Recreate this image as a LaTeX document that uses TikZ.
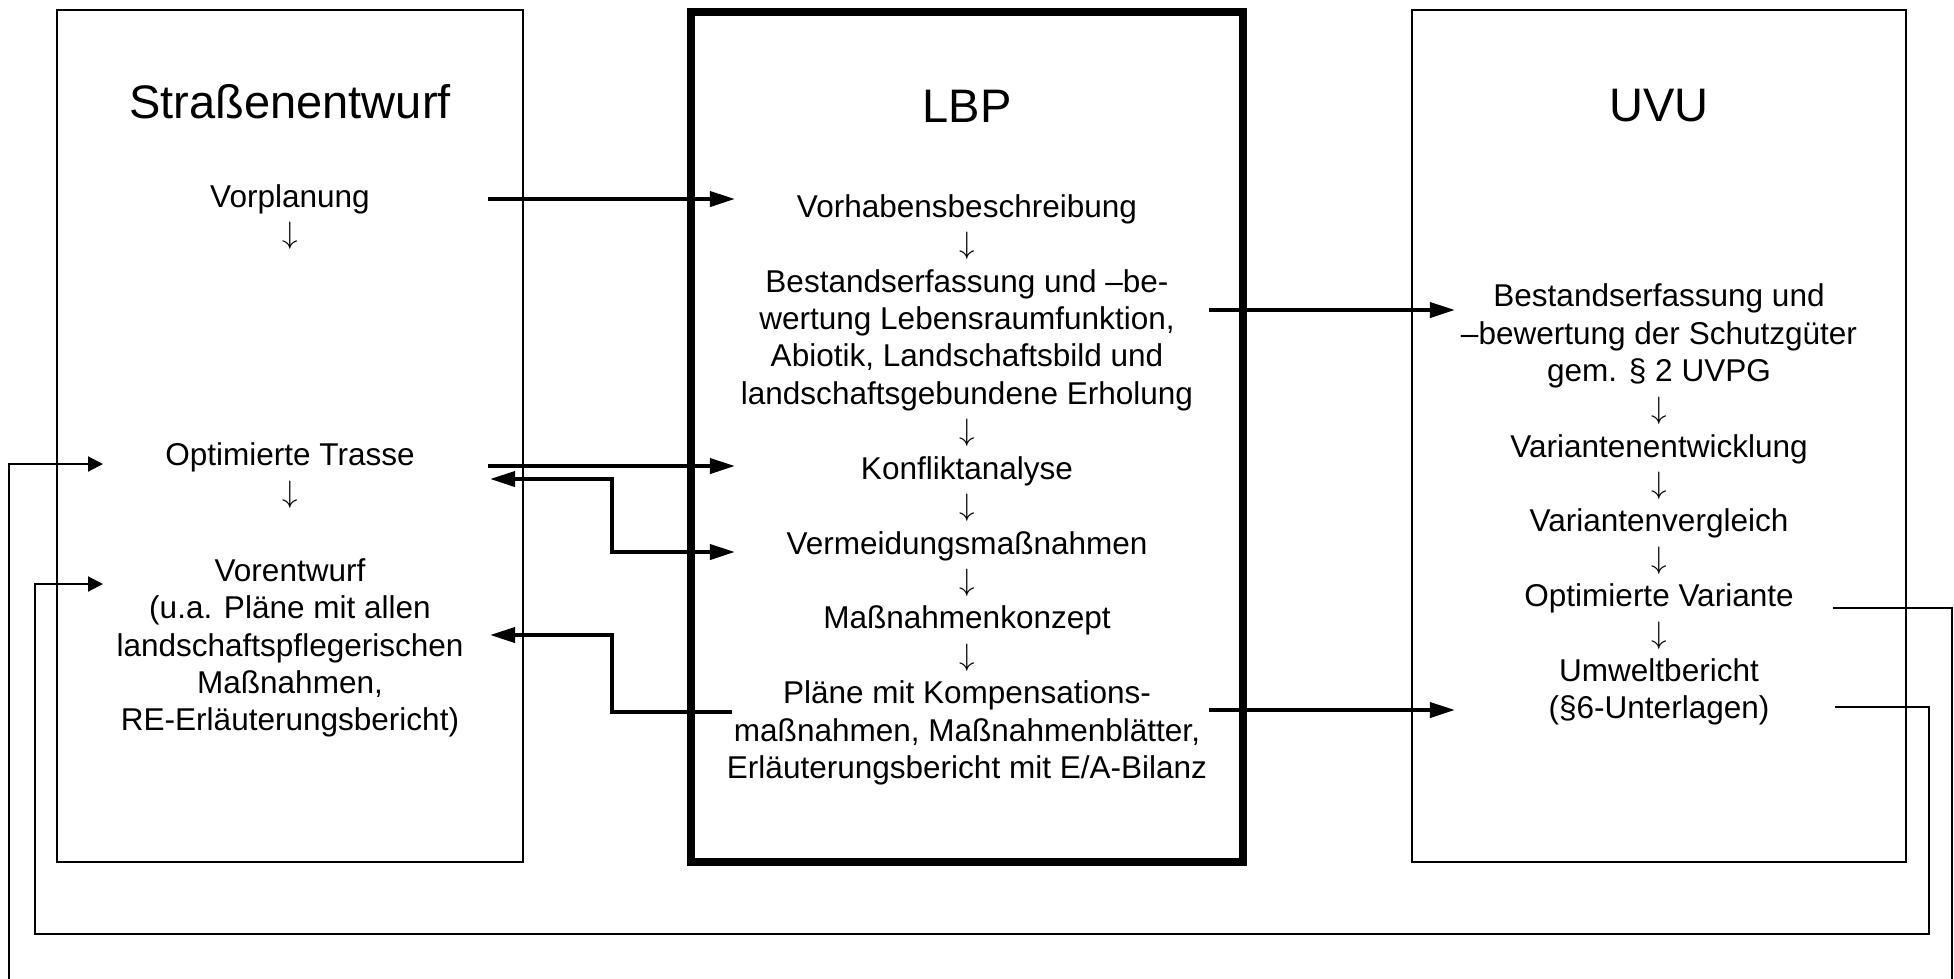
\documentclass[tikz,border=0pt]{standalone}
\usepackage{fontspec}
\setmainfont{Liberation Sans}
\usetikzlibrary{arrows.meta}
\begin{document}
\begin{tikzpicture}[x=0.387pt,y=-0.387pt,
  txt/.style={font=\fontsize{12.2}{14.47}\selectfont, align=center, inner sep=0pt},
  dnarrow/.style={font=\fontsize{12.2}{14.47}\selectfont, inner sep=0pt},
  ttl/.style={font=\fontsize{18.2}{21}\selectfont, inner sep=0pt},
  thinbox/.style={draw, line width=0.8pt},
  fatbox/.style={draw, line width=3.2pt},
  fatarrow/.style={line width=1.5pt, -{Triangle[length=9.7pt,width=5.8pt]}},
  fatboth/.style={line width=1.5pt, {Triangle[length=9.7pt,width=5.8pt]}-{Triangle[length=9.7pt,width=5.8pt]}},
  thinarrow/.style={line width=0.8pt, -{Triangle[length=5.8pt,width=5.8pt]}}
]
\useasboundingbox (0,0) rectangle (1954,978);

% boxes
\draw[thinbox] (57,10) rectangle (523,862);
\draw[fatbox] (691,12) rectangle (1243,862);
\draw[thinbox] (1412,10) rectangle (1906,862);

% left column
\node[ttl] (tL) at (290,102) {Straßenentwurf};
\node[txt] (vorpl) at (290,199) {Vorplanung};
\node[dnarrow] (dL1) at (290,236) {$\downarrow$};
\node[txt] (trasse) at (290,457) {Optimierte Trasse};
\node[dnarrow] (dL2) at (290,495) {$\downarrow$};
\node[txt] (vorent) at (290,648) {Vorentwurf\\(u.a. Pläne mit allen\\landschaftspflegerischen\\Maßnahmen,\\RE-Erläuterungsbericht)};

% center column
\node[ttl] (tC) at (967,106) {LBP};
\node[txt] (vorhab) at (967,209) {Vorhabensbeschreibung};
\node[dnarrow] (dC1) at (967,246) {$\downarrow$};
\node[txt] (bestC) at (967,340) {Bestandserfassung und –be-\\wertung Lebensraumfunktion,\\Abiotik, Landschaftsbild und\\landschaftsgebundene Erholung};
\node[dnarrow] (dC2) at (967,433) {$\downarrow$};
\node[txt] (konf) at (967,471) {Konfliktanalyse};
\node[dnarrow] (dC3) at (967,508) {$\downarrow$};
\node[txt] (verm) at (967,546) {Vermeidungsmaßnahmen};
\node[dnarrow] (dC4) at (967,583) {$\downarrow$};
\node[txt] (konz) at (967,620) {Maßnahmenkonzept};
\node[dnarrow] (dC5) at (967,658) {$\downarrow$};
\node[txt] (plaene) at (967,733) {Pläne mit Kompensations-\\maßnahmen, Maßnahmenblätter,\\Erläuterungsbericht mit E/A-Bilanz};

% right column
\node[ttl] (tR) at (1659,106) {UVU};
\node[txt] (bestR) at (1659,336) {Bestandserfassung und\\–bewertung der Schutzgüter\\gem. § 2 UVPG};
\node[dnarrow] (dR1) at (1659,411) {$\downarrow$};
\node[txt] (varent) at (1659,449) {Variantenentwicklung};
\node[dnarrow] (dR2) at (1659,486) {$\downarrow$};
\node[txt] (varver) at (1659,523) {Variantenvergleich};
\node[dnarrow] (dR3) at (1659,561) {$\downarrow$};
\node[txt] (optvar) at (1659,598) {Optimierte Variante};
\node[dnarrow] (dR4) at (1659,636) {$\downarrow$};
\node[txt] (umwelt) at (1659,692) {Umweltbericht\\(§6-Unterlagen)};

% connector end points
\coordinate (a1s) at (488,199);  \coordinate (a1e) at (735,199);
\coordinate (a2s) at (1209,310); \coordinate (a2e) at (1455,310);
\coordinate (a3s) at (488,466);  \coordinate (a3e) at (735,466);
\coordinate (a4l) at (490,479);  \coordinate (a4r) at (735,552);
\coordinate (a5s) at (732,712);  \coordinate (a5e) at (490,635);
\coordinate (a6s) at (1209,710); \coordinate (a6e) at (1455,710);
\coordinate (f1s) at (1833,608); \coordinate (f1e) at (103,464);
\coordinate (f2s) at (1835,707); \coordinate (f2e) at (103,584);

% thick arrows
\draw[fatarrow] (a1s) -- (a1e);
\draw[fatarrow] (a2s) -- (a2e);
\draw[fatarrow] (a3s) -- (a3e);
\draw[fatboth] (a4l) -- (612,479) -- (612,552) -- (a4r);
\draw[fatarrow] (a5s) -- (612,712) -- (612,635) -- (a5e);
\draw[fatarrow] (a6s) -- (a6e);

% feedback lines
\draw[thinarrow] (f1s) -- (1952,608) -- (1952,1000) -- (9,1000) -- (9,464) -- (f1e);
\draw[thinarrow] (f2s) -- (1929,707) -- (1929,934) -- (35,934) -- (35,584) -- (f2e);
\end{tikzpicture}
\end{document}
